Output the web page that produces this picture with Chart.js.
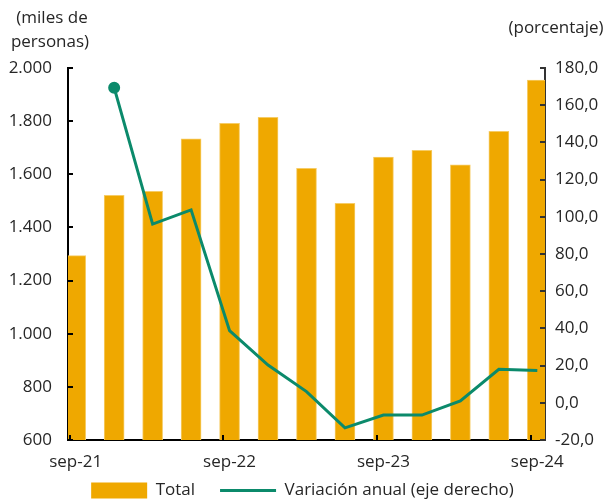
<!DOCTYPE html>
<html>
<head>
<meta charset="utf-8">
<script src="https://cdn.jsdelivr.net/npm/chart.js@4.4.0/dist/chart.umd.min.js"></script>
<style>
  html, body { margin: 0; padding: 0; background: #fff; }
  #wrap { width: 605px; height: 499px; position: relative; }
</style>
</head>
<body>
<div id="wrap"><canvas id="chart"></canvas></div>
<script>
// datos trimestrales
const periods = ['sep-21', 'dic-21', 'mar-22', 'jun-22', 'sep-22', 'dic-22', 'mar-23', 'jun-23', 'sep-23', 'dic-23', 'mar-24', 'jun-24', 'sep-24'];
const total = [1294, 1521, 1536, 1733, 1792, 1814, 1622, 1491, 1665, 1690, 1636, 1762, 1955];
const variacion = [null, 169.4, 96.1, 103.7, 38.8, 20.3, 6.0, -13.5, -6.6, -6.6, 1.0, 18.0, 17.3];
const tickPeriods = ['sep-21', 'sep-22', 'sep-23', 'sep-24'];
const leftTitle = ['(miles de', 'personas)'];
const rightTitle = '(porcentaje)';

const textColor = '#262626';
const fontFamily = '"Open Sans", "Liberation Sans", sans-serif';
const fontSize = 17;

const fmtMiles = v => { let s = String(Math.abs(v)); if (s.length > 3) s = s.slice(0, -3) + '.' + s.slice(-3); return (v < 0 ? '-' : '') + s; };
const fmtPct = v => v.toFixed(1).replace('.', ',');

// subir la leyenda hasta el borde inferior
const legendNudge = {
  id: 'legendNudge',
  afterLayout(chart) {
    const lg = chart.legend;
    if (lg) lg.top = lg.bottom - 42;
  }
};

// títulos y marcas de eje hacia adentro
const extras = {
  id: 'extras',
  afterDraw(chart) {
    const { ctx, chartArea, scales } = chart;
    ctx.save();
    ctx.fillStyle = textColor;
    ctx.font = fontSize + 'px ' + fontFamily;
    ctx.textAlign = 'center';
    ctx.textBaseline = 'middle';
    ctx.fillText(leftTitle[0], 52, 18);
    ctx.fillText(leftTitle[1], 50, 42);
    ctx.fillText(rightTitle, 556, 28);

    ctx.lineWidth = 2;
    ctx.strokeStyle = '#000';
    scales.y.ticks.forEach(t => {
      const py = Math.round(scales.y.getPixelForValue(t.value));
      ctx.beginPath(); ctx.moveTo(chartArea.left, py); ctx.lineTo(chartArea.left + 5, py); ctx.stroke();
    });
    ctx.strokeStyle = '#333';
    scales.y1.ticks.forEach(t => {
      const py = Math.round(scales.y1.getPixelForValue(t.value));
      ctx.beginPath(); ctx.moveTo(chartArea.right, py); ctx.lineTo(chartArea.right - 5, py); ctx.stroke();
    });
    ctx.strokeStyle = '#000';
    scales.x.ticks.forEach(t => {
      const px = Math.round(scales.x.getPixelForValue(t.value - 0.16));
      ctx.beginPath(); ctx.moveTo(px, chartArea.bottom); ctx.lineTo(px, chartArea.bottom - 5); ctx.stroke();
    });
    ctx.restore();
  }
};

const ctx = document.querySelector('#chart').getContext('2d');
const chart = new Chart(ctx, {
  type: 'bar',
  data: {
    datasets: [
      {
        type: 'bar',
        label: 'Total',
        data: total.map((v, i) => ({ x: i, y: v })),
        backgroundColor: '#EFA800',
        borderColor: '#F6CC66',
        borderWidth: 1,
        barThickness: 20,
        yAxisID: 'y',
        order: 2
      },
      {
        type: 'line',
        label: 'Variación anual (eje derecho)',
        data: variacion.map((v, i) => ({ x: i, y: v })),
        borderColor: '#0B8A6B',
        backgroundColor: '#0B8A6B',
        borderWidth: 3,
        pointRadius: c => (c.dataIndex === 1 ? 4.5 : 0),
        pointHoverRadius: 0,
        tension: 0,
        spanGaps: false,
        yAxisID: 'y1',
        order: 1
      }
    ]
  },
  options: {
    responsive: true,
    maintainAspectRatio: false,
    animation: false,
    layout: { padding: { top: 68, left: 0, right: 0, bottom: 0 } },
    plugins: {
      tooltip: { enabled: false },
      legend: {
        position: 'bottom',
        maxHeight: 23,
        labels: {
          usePointStyle: true,
          pointStyleWidth: 56,
          boxHeight: 16,
          padding: 25,
          color: textColor,
          font: { family: fontFamily, size: fontSize },
          generateLabels: chart => chart.data.datasets.map((ds, i) => ({
            text: ds.label,
            fillStyle: ds.backgroundColor,
            strokeStyle: ds.type === 'line' ? ds.borderColor : ds.backgroundColor,
            lineWidth: ds.type === 'line' ? 3 : 0,
            pointStyle: ds.type === 'line' ? 'line' : 'rect',
            fontColor: textColor,
            datasetIndex: i
          }))
        }
      }
    },
    scales: {
      x: {
        type: 'linear',
        offset: false,
        min: -0.2,
        max: 12.2,
        afterBuildTicks: s => { s.ticks = tickPeriods.map(p => ({ value: periods.indexOf(p) })); },
        afterFit: s => { s.height = 36; },
        ticks: {
          padding: 12,
          color: textColor,
          font: { family: fontFamily, size: fontSize },
          maxRotation: 0,
          callback: v => periods[v]
        },
        grid: { display: false, drawTicks: false, offset: false },
        border: { display: true, color: '#000', width: 2 }
      },
      y: {
        position: 'left',
        min: 600,
        max: 2000,
        afterFit: s => { s.width = 68; },
        ticks: {
          stepSize: 200,
          padding: 16,
          color: textColor,
          font: { family: fontFamily, size: fontSize },
          callback: v => fmtMiles(v)
        },
        grid: { display: false, drawTicks: false },
        border: { display: true, color: '#000', width: 2 }
      },
      y1: {
        position: 'right',
        min: -20,
        max: 180,
        afterFit: s => { s.width = 60; },
        ticks: {
          stepSize: 20,
          padding: 10,
          color: textColor,
          font: { family: fontFamily, size: fontSize },
          callback: v => fmtPct(v)
        },
        grid: { display: false, drawTicks: false },
        border: { display: true, color: '#333', width: 2 }
      }
    }
  },
  plugins: [legendNudge, extras]
});
</script>
</body>
</html>
